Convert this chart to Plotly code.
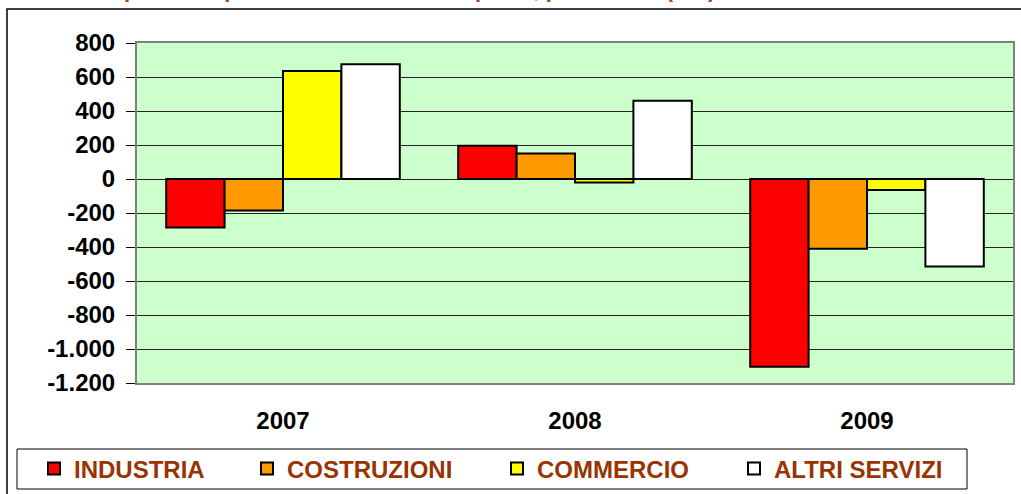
import plotly.graph_objects as go

# ---- data ----
years = ["2007", "2008", "2009"]
industria = [-285, 195, -1105]
costruzioni = [-185, 150, -410]
commercio = [635, -20, -65]
altri_servizi = [675, 460, -515]

series_names = ["INDUSTRIA", "COSTRUZIONI", "COMMERCIO", "ALTRI SERVIZI"]
series_colors = ["#FF0000", "#FF9900", "#FFFF00", "#FFFFFF"]

y_tickvals = [800, 600, 400, 200, 0, -200, -400, -600, -800, -1000, -1200]
y_ticktext = ["800", "600", "400", "200", "0", "-200", "-400", "-600", "-800", "-1.000", "-1.200"]

title_text = "Saldi occupazionali per dimensione delle imprese, per settore (v.a.)"

W, H = 1021, 494
FONT = "Arial, 'Liberation Sans', sans-serif"
BROWN = "#993300"

fig = go.Figure()
all_series = [industria, costruzioni, commercio, altri_servizi]
legend_x_px = [34, 247, 497, 734]
for i, (name, vals, col) in enumerate(zip(series_names, all_series, series_colors)):
    lg = "legend" if i == 0 else f"legend{i+1}"
    fig.add_trace(go.Bar(
        x=years, y=vals, name=name,
        marker=dict(color=col, line=dict(color="black", width=2)),
        legend=lg,
    ))

legend_common = dict(
    orientation="h", xref="container", yref="container",
    yanchor="middle", xanchor="left",
    bgcolor="rgba(0,0,0,0)", borderwidth=0,
    font=dict(family=FONT, size=24, color=BROWN, weight="bold"),
)
layout_legends = {}
for i, px in enumerate(legend_x_px):
    key = "legend" if i == 0 else f"legend{i+1}"
    layout_legends[key] = dict(legend_common, x=px / W, y=1 - 469 / H)

plot_l, plot_r, plot_t, plot_b = 137, 1013, 43, 383
PW, PH = plot_r - plot_l, plot_b - plot_t

fig.update_layout(
    width=W, height=H,
    margin=dict(l=plot_l, r=W - plot_r, t=plot_t, b=H - plot_b, autoexpand=False),
    paper_bgcolor="white",
    plot_bgcolor="#CCFFCC",
    barmode="group", bargap=0.2, bargroupgap=0,
    showlegend=True,
    font=dict(family=FONT),
    xaxis=dict(
        type="category", automargin=False,
        showline=True, linecolor="#808080", linewidth=2, mirror=True,
        ticks="outside", ticklen=15, tickcolor="rgba(0,0,0,0)",
        tickfont=dict(family=FONT, size=24, color="black", weight="bold"),
        showgrid=False, zeroline=False,
    ),
    xaxis2=dict(
        overlaying="x", anchor="free", position=0.6, side="bottom",
        range=[-0.5, 2.5], showgrid=False, zeroline=False, automargin=False,
        showline=True, linecolor="black", linewidth=1,
        ticks="outside", ticklen=7, tickcolor="black", tickwidth=1,
        tickvals=[-0.5, 0.5, 1.5, 2.5], showticklabels=False,
    ),
    yaxis=dict(
        range=[-1200, 800], automargin=False,
        tickvals=y_tickvals, ticktext=y_ticktext,
        showline=True, linecolor="#808080", linewidth=2, mirror=True,
        ticks="outside", ticklen=9, tickcolor="black", tickwidth=1,
        ticklabelstandoff=6,
        tickfont=dict(family=FONT, size=24, color="black", weight="bold"),
        showgrid=True, gridcolor="#222222", gridwidth=1,
        zeroline=False,
    ),
    shapes=[
        # outer chart frame (cut by window)
        dict(type="rect", xref="paper", yref="paper",
             x0=(7 - plot_l) / PW, x1=(1040 - plot_l) / PW,
             y0=(plot_b - 520) / PH, y1=(plot_b - 9) / PH,
             line=dict(color="black", width=1.5), fillcolor="rgba(0,0,0,0)", layer="below"),
        # legend box
        dict(type="rect", xref="paper", yref="paper",
             x0=(17 - plot_l) / PW, x1=(967 - plot_l) / PW,
             y0=(plot_b - 489) / PH, y1=(plot_b - 449) / PH,
             line=dict(color="black", width=1), fillcolor="white", layer="below"),
    ],
    annotations=[
        dict(text="<b>" + title_text + "</b>", xref="paper", yref="paper",
             x=(12 - plot_l) / PW, y=(plot_b - 4.5) / PH,
             xanchor="left", yanchor="bottom", showarrow=False,
             font=dict(family=FONT, size=22, color="#B04010")),
    ],
    **layout_legends,
)

fig.write_html(
    "out.html",
    config={"displayModeBar": False},
    post_script="document.body.style.margin='0';document.body.style.overflow='hidden';",
)
